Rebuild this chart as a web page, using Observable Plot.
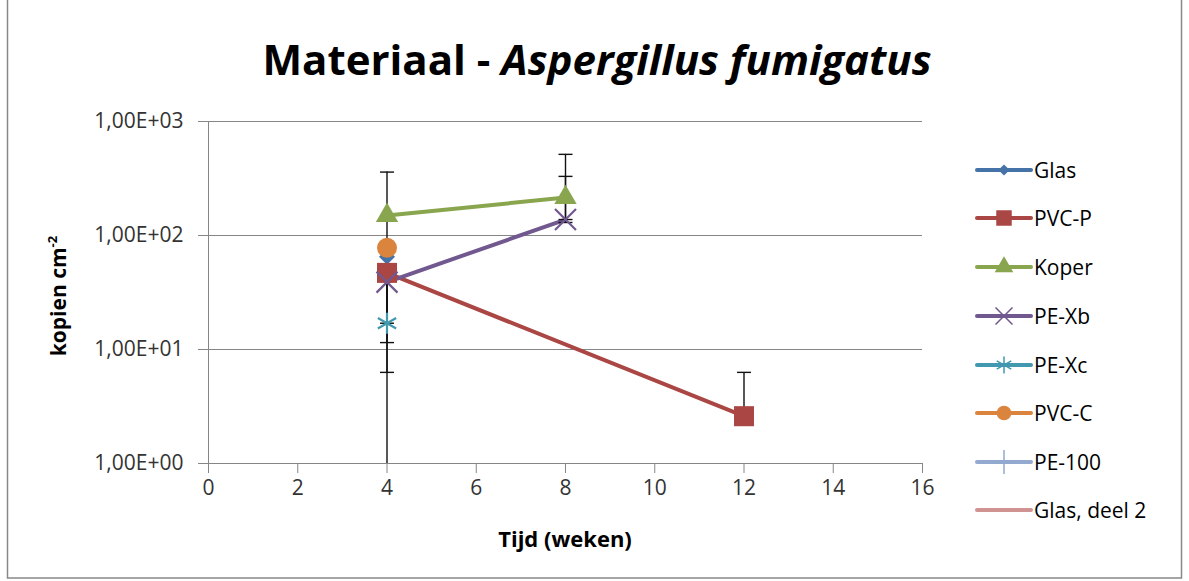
<!DOCTYPE html>
<html>
<head>
<meta charset="utf-8">
<script src="https://cdn.jsdelivr.net/npm/d3@7"></script>
<script src="https://cdn.jsdelivr.net/npm/@observablehq/plot@0.6"></script>
<style>
  body { margin: 0; background: #fff; }
  #chart { position: relative; width: 1189px; height: 581px; }
</style>
</head>
<body>
<div id="chart"></div>
<script>
// Sampling weeks and materials
const weeks = [4, 8, 12];
const materials = ["Glas", "PVC-P", "Koper", "PE-Xb", "PE-Xc", "PVC-C", "PE-100", "Glas, deel 2"];
const colors = ["#4572A7", "#AA4643", "#89A54E", "#71588F", "#4198AF", "#DB843D", "#93A9CF", "#D19392"];
const symbols = ["diamond2", "square", "triangle", "times", "asterisk", "circle", "plus", null];
const filled = [true, true, true, false, false, true, false, false];

// Copies per cm² by week (null = no measurement)
const glas      = [65, null, null];
const pvcP      = [47, null, 2.6];
const koper     = [150, 215, null];
const peXb      = [39, 138, null];
const peXc      = [17, null, null];
const pvcC      = [78, null, null];
const pe100     = [null, null, null];
const glasDeel2 = [null, null, null];

// Error bar bounds by week (0 = lower bound below the axis range)
const glasLow  = [17, null, null],  glasHigh  = [70, null, null];
const pvcPLow  = [11.5, null, 2.5], pvcPHigh  = [52, null, 6.3];
const koperLow = [0, 138, null],    koperHigh = [360, 515, null];
const peXbLow  = [6.3, 130, null],  peXbHigh  = [43, 330, null];

const xTicks = [0, 2, 4, 6, 8, 10, 12, 14, 16];
const yTicks = [1, 10, 100, 1000];
const yTickLabels = ["1,00E+00", "1,00E+01", "1,00E+02", "1,00E+03"];

const seriesValues = [glas, pvcP, koper, peXb, peXc, pvcC, pe100, glasDeel2];
const errorBounds = [
  ["Glas", glasLow, glasHigh],
  ["PVC-P", pvcPLow, pvcPHigh],
  ["Koper", koperLow, koperHigh],
  ["PE-Xb", peXbLow, peXbHigh]
];

const rows = [];
materials.forEach((m, i) => {
  weeks.forEach((w, j) => {
    const v = seriesValues[i][j];
    if (v != null) rows.push({material: m, week: w, value: v});
  });
});

const errRows = [];
const capRows = [];
errorBounds.forEach(([m, lo, hi]) => {
  weeks.forEach((w, j) => {
    if (hi[j] == null) return;
    const clipped = lo[j] < 1;
    errRows.push({material: m, week: w, low: clipped ? 1 : lo[j], high: hi[j]});
    capRows.push({week: w, v: hi[j]});
    if (!clipped) capRows.push({week: w, v: lo[j]});
  });
});

// Horizontal cap drawn at the end of an error bar
const capSymbol = { draw(ctx) { ctx.moveTo(-7, 0); ctx.lineTo(7, 0); } };

const FONT = "'Open Sans', sans-serif";
const gridColor = "#868686";

const seriesMarks = [];
materials.forEach((m, i) => {
  const data = rows.filter(d => d.material === m);
  if (!data.length) return;
  seriesMarks.push(Plot.line(data, {x: "week", y: "value", stroke: colors[i], strokeWidth: 4}));
});
const dotMarks = [];
const dotSize = {diamond2: 7.2, square: 11.3, triangle: 8.3, times: 9.6, asterisk: 10, circle: 10, plus: 9};
materials.forEach((m, i) => {
  const data = rows.filter(d => d.material === m);
  if (!data.length || !symbols[i]) return;
  dotMarks.push(Plot.dot(data, filled[i]
    ? {x: "week", y: "value", symbol: symbols[i], r: dotSize[symbols[i]], fill: colors[i], stroke: "none"}
    : {x: "week", y: "value", symbol: symbols[i], r: dotSize[symbols[i]], stroke: colors[i], strokeWidth: 2.2}));
});

const svg = Plot.plot({
  width: 1189,
  height: 581,
  marginLeft: 208,
  marginRight: 267,
  marginTop: 121,
  marginBottom: 118,
  style: {fontFamily: FONT, background: "#fff", overflow: "visible"},
  x: {domain: [0, 16]},
  y: {type: "log", domain: [1, 1000]},
  marks: [
    Plot.ruleY(yTicks.slice(1), {stroke: gridColor, strokeWidth: 1}),
    Plot.ruleX([0], {stroke: gridColor, strokeWidth: 1}),
    Plot.ruleY([1], {stroke: gridColor, strokeWidth: 1}),
    Plot.axisX({ticks: xTicks, tickSize: 10, tickPadding: 7, fontSize: 21, stroke: gridColor, fill: "#333", label: null}),
    Plot.axisY({ticks: yTicks, tickFormat: d => yTickLabels[yTicks.indexOf(d)], tickSize: 10, tickPadding: 15, fontSize: 21, stroke: gridColor, fill: "#333", label: null}),
    ...seriesMarks,
    Plot.ruleX(errRows, {x: "week", y1: "low", y2: "high", stroke: "#111", strokeWidth: 1.4}),
    Plot.dot(capRows, {x: "week", y: "v", symbol: capSymbol, stroke: "#111", strokeWidth: 1.4}),
    ...dotMarks
  ]
});

const s = d3.select(svg);

// Outer chart border
s.insert("rect", ":first-child")
  .attr("x", 7.5).attr("y", -5).attr("width", 1174).attr("height", 583)
  .attr("fill", "none").attr("stroke", "#888").attr("stroke-width", 1.5);

// Title
const title = s.append("text")
  .attr("x", 597).attr("y", 75).attr("text-anchor", "middle")
  .attr("font-size", 42).attr("font-weight", "bold").attr("fill", "#000");
title.append("tspan").text("Materiaal - ");
title.append("tspan").attr("font-style", "italic").text("Aspergillus fumigatus");

// Axis titles
s.append("text")
  .attr("x", 565).attr("y", 547).attr("text-anchor", "middle")
  .attr("font-size", 22).attr("font-weight", "bold").attr("fill", "#000")
  .text("Tijd (weken)");
const yl = s.append("text")
  .attr("transform", "translate(66,296) rotate(-90)").attr("text-anchor", "middle")
  .attr("font-size", 21).attr("font-weight", "bold").attr("fill", "#000");
yl.append("tspan").text("kopien cm");
yl.append("tspan").attr("dy", -9).attr("font-size", 13).text("-2");

// Legend
const legend = s.append("g").attr("transform", "translate(976,0)");
const legendY = [170, 218, 267, 316, 365, 413, 462, 510];
const legendSize = {diamond2: 80, square: 240, triangle: 150, times: 190, asterisk: 200, circle: 170, plus: 190};
const d3Symbols = {diamond2: d3.symbolDiamond2, square: d3.symbolSquare, triangle: d3.symbolTriangle,
  times: d3.symbolTimes, asterisk: d3.symbolAsterisk, circle: d3.symbolCircle, plus: d3.symbolPlus};
materials.forEach((m, i) => {
  const g = legend.append("g").attr("transform", `translate(0,${legendY[i]})`);
  g.append("line").attr("x1", 1).attr("x2", 55).attr("y1", 0).attr("y2", 0)
    .attr("stroke", colors[i]).attr("stroke-width", 4).attr("stroke-linecap", "round");
  if (symbols[i]) {
    const p = d3.symbol(d3Symbols[symbols[i]], legendSize[symbols[i]])();
    g.append("path").attr("d", p).attr("transform", "translate(28,0)")
      .attr("fill", filled[i] ? colors[i] : "none")
      .attr("stroke", filled[i] ? "none" : colors[i]).attr("stroke-width", 1.5);
  }
  g.append("text").attr("x", 58).attr("y", 8).attr("text-anchor", "start")
    .attr("font-size", 21).attr("fill", "#000").text(m);
});

document.getElementById("chart").appendChild(svg);
</script>
</body>
</html>
